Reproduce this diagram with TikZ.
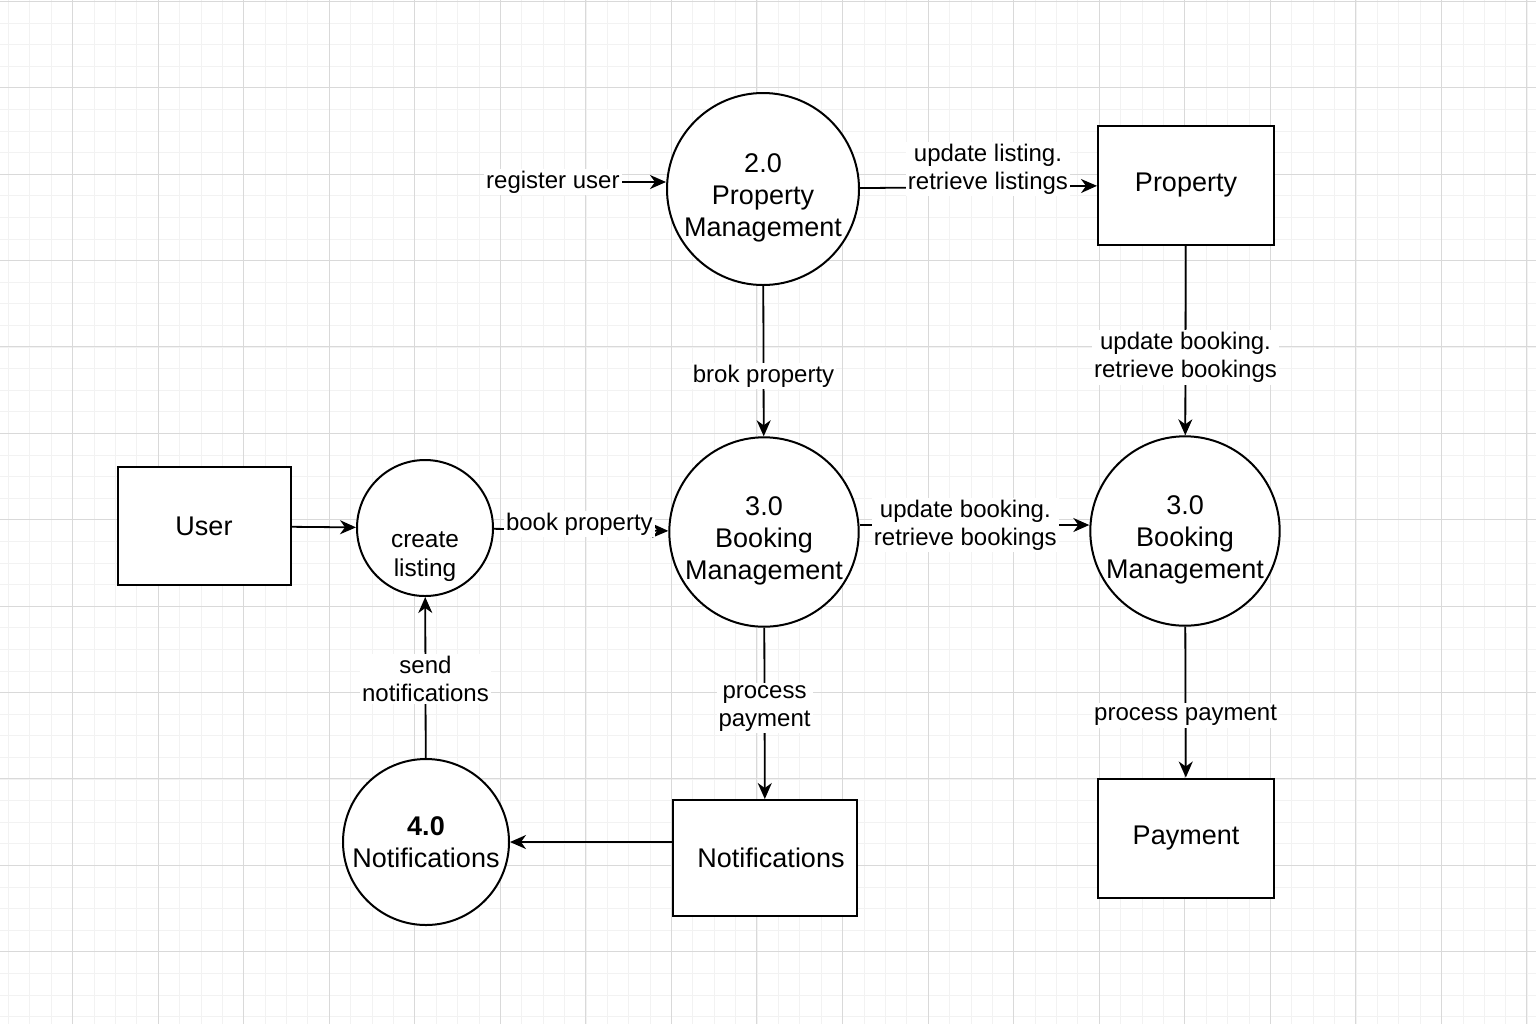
\documentclass[tikz,border=0pt]{standalone}
\usepackage{fontspec}
\setmainfont{Liberation Sans}
\usetikzlibrary{arrows.meta}

\newcommand{\toppad}{\rule{0pt}{18pt}}

\begin{document}
\begin{tikzpicture}[x=0.5pt,y=-0.5pt,
    minorgrid/.style={draw=black!5,line width=0.5pt},
    majorgrid/.style={draw=black!15,line width=0.6pt},
    proc/.style={circle,draw,line width=1pt,fill=white,align=center,inner sep=0pt,
      font=\fontsize{13.5}{16}\selectfont},
    store/.style={rectangle,draw,line width=1pt,fill=white,align=center,
      minimum width=88pt,minimum height=59.5pt,font=\fontsize{13.5}{16}\selectfont},
    flow/.style={draw,line width=0.9pt,-{Stealth[length=8pt,width=7pt,inset=2.5pt]}},
    lbl/.style={fill=white,align=center,inner sep=1pt,font=\fontsize{12}{14}\selectfont}]
  \useasboundingbox (0,0) rectangle (1536,1024);
  % background grid
  \foreach \i in {0,...,71} \draw[minorgrid] ({round(8+21.39*\i)+0.5},0) -- ++(0,1024);
  \foreach \i in {0,...,47} \draw[minorgrid] (0,{round(0.9+21.6*\i)+0.5}) -- ++(1536,0);
  \foreach \i in {0,...,17} \draw[majorgrid] ({round(72+85.55*\i)+0.5},0) -- ++(0,1024);
  \foreach \i in {0,...,11} \draw[majorgrid] (0,{round(0.9+86.4*\i)+0.5}) -- ++(1536,0);

  % processes
  \node[proc,minimum size=96pt] (pm) at (763,189) {\toppad 2.0\\Property\\Management};
  \node[proc,minimum size=94pt] (bm) at (764,532) {\toppad 3.0\\Booking\\Management};
  \node[proc,minimum size=93pt] (bmr) at (1185,531) {\toppad 3.0\\Booking\\Management};
  \node[proc,minimum size=68pt,
    label={[align=center,font=\fontsize{12.2}{14.5}\selectfont,yshift=-14.5pt]center:create\\listing}]
    (cl) at (425,528) {};
  \node[proc,minimum size=83pt] (nc) at (426,842) {\textbf{4.0}\\Notifications};

  % stores and entities
  \node[store,minimum width=86.5pt,minimum height=59pt] (user) at (204,526) {User};
  \node[store] (prop) at (1186,185) {Property};
  \node[store,minimum width=92pt,minimum height=58pt] (nb) at (765,858) {\hspace{6pt}Notifications};
  \node[store] (pay) at (1186,838) {Payment};

  % flows
  \node[lbl,anchor=east] (ru) at (622,182) {register user};
  \draw[flow] (ru.east) -- (ru.east -| pm.west);
  \draw[flow] (pm) -- node[lbl,pos=0.54,yshift=9pt] {update listing.\\retrieve listings} (prop);
  \draw[flow] (pm) -- node[lbl,pos=0.6] {brok property} (bm);
  \draw[flow] (prop) -- node[lbl,pos=0.59] {update booking.\\retrieve bookings} (bmr);
  \draw[flow] (user) -- (cl);
  \draw[flow] (cl) -- node[lbl,pos=0.49,yshift=3pt] {book property} (bm);
  \draw[flow] ([yshift=3.5pt]bm.east) -- node[lbl,pos=0.46] {update booking.\\retrieve bookings} ([yshift=3pt]bmr.west);
  \draw[flow] (bm) -- node[lbl,pos=0.47] {process\\payment} (nb);
  \draw[flow] (nb.west |- nc.east) -- (nc.east);
  \draw[flow] (nc) -- node[lbl,pos=0.49] {send\\notifications} (cl);
  \draw[flow] (bmr) -- node[lbl,pos=0.59] {process payment} (pay);
\end{tikzpicture}
\end{document}
